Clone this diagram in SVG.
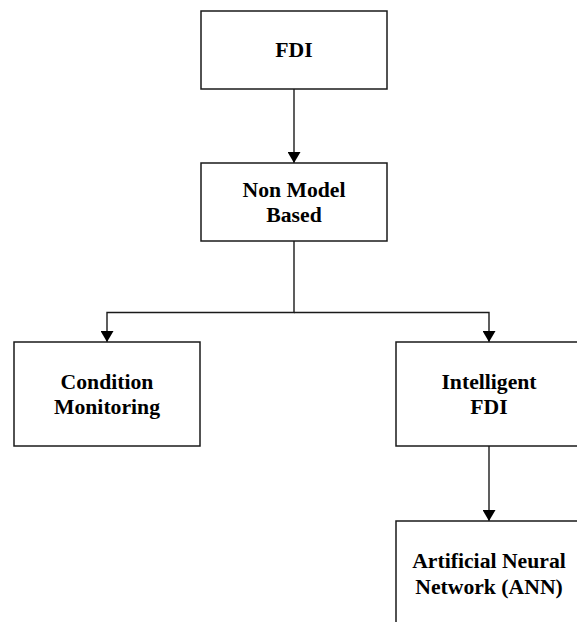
<svg xmlns="http://www.w3.org/2000/svg" width="577" height="622" viewBox="0 0 577 622">
<style>
.box{fill:#fff;stroke:#1a1a1a;stroke-width:1.5}
.lbl{font-family:"Liberation Serif","Times New Roman",serif;font-weight:bold;font-size:21.7px;fill:#000;text-anchor:middle}
.con{fill:none;stroke:#1a1a1a;stroke-width:1.4}
</style>
<defs>
<marker id="ah" markerUnits="userSpaceOnUse" markerWidth="12" markerHeight="13" refX="11" refY="6.5" orient="auto">
<path d="M0,0 L11,6.5 L0,13 Z" fill="#000"/>
</marker>
</defs>
<rect width="577" height="622" fill="#fff"/>
<g id="connectors">
<path class="con" d="M294,89 V163" marker-end="url(#ah)"/>
<path class="con" d="M294,241 V312.5 H107 V342" marker-end="url(#ah)"/>
<path class="con" d="M294,312.5 H489 V342" marker-end="url(#ah)"/>
<path class="con" d="M489,446 V521" marker-end="url(#ah)"/>
</g>
<g id="fdi">
<rect class="box" x="201" y="11" width="186" height="78"/>
<text class="lbl" x="294" y="57">FDI</text>
</g>
<g id="nonmodel">
<rect class="box" x="201" y="163" width="186" height="78"/>
<text class="lbl" x="294" y="197">Non Model</text>
<text class="lbl" x="294" y="222">Based</text>
</g>
<g id="condition">
<rect class="box" x="14" y="342" width="186" height="104"/>
<text class="lbl" x="107" y="389">Condition</text>
<text class="lbl" x="107" y="414">Monitoring</text>
</g>
<g id="intelligent">
<rect class="box" x="396" y="342" width="186" height="104"/>
<text class="lbl" x="489" y="389">Intelligent</text>
<text class="lbl" x="489" y="414">FDI</text>
</g>
<g id="ann">
<rect class="box" x="396" y="521" width="186" height="110"/>
<text class="lbl" x="489" y="568">Artificial Neural</text>
<text class="lbl" x="489" y="594">Network (ANN)</text>
</g>
</svg>
